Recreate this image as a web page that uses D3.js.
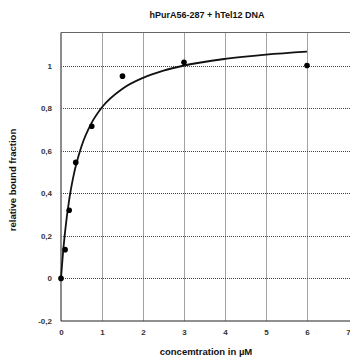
<!DOCTYPE html>
<html><head><meta charset="utf-8">
<script src="https://cdn.jsdelivr.net/npm/d3@7"></script>
<style>body{margin:0;background:#fff;}svg{display:block;font-family:"Liberation Sans",Arial,sans-serif;}</style>
</head><body><svg id="c" width="350" height="363"></svg>
<script>
const title = "hPurA56-287 + hTel12 DNA";
const xLabel = "concemtration in µM";
const yLabel = "relative bound fraction";
const pointX = [0, 0.1, 0.2, 0.36, 0.75, 1.5, 3, 6];
const pointY = [0, 0.135, 0.32, 0.545, 0.715, 0.95, 1.015, 1.0];
const fitX = [0, 0.02, 0.05, 0.1, 0.2, 0.3, 0.5, 0.75, 1, 1.5, 2, 2.5, 3, 4, 5, 6];
const fitY = [0, 0.05, 0.122, 0.22, 0.37, 0.477, 0.621, 0.732, 0.804, 0.891, 0.942, 0.976, 1.0, 1.031, 1.051, 1.065];
const xTicks = [0, 1, 2, 3, 4, 5, 6, 7];
const yTicks = [-0.2, 0, 0.2, 0.4, 0.6, 0.8, 1];

const svg = d3.select("#c");
const L = 61, R = 348, T = 32.5, B = 321;
const x = d3.scaleLinear().domain([0, 7]).range([L, R]);
const y = d3.scaleLinear().domain([-0.2, 1.155]).range([B, T]);
const fmt = v => (v === 0 ? "0" : String(+v.toFixed(1)).replace(".", ","));

// grid
const g = svg.append("g");
g.selectAll(".gx").data(xTicks.filter(d => d > 0 && d < 7)).join("line")
  .attr("x1", d => x(d) + 0.5).attr("x2", d => x(d) + 0.5).attr("y1", T).attr("y2", B)
  .attr("stroke", "#444").attr("stroke-width", 1).attr("stroke-dasharray", "1,1");
g.selectAll(".gy").data(yTicks.filter(d => d > -0.2)).join("line")
  .attr("x1", L).attr("x2", 350).attr("y1", d => Math.round(y(d)) + 0.5).attr("y2", d => Math.round(y(d)) + 0.5)
  .attr("stroke", "#444").attr("stroke-width", 1).attr("stroke-dasharray", "1,1");

// frame
svg.append("line").attr("x1", L).attr("x2", 350).attr("y1", T).attr("y2", T).attr("stroke", "#666").attr("stroke-width", 1);
svg.append("line").attr("x1", L).attr("x2", L).attr("y1", T).attr("y2", B).attr("stroke", "#666").attr("stroke-width", 1.5);
svg.append("line").attr("x1", L).attr("x2", 350).attr("y1", B).attr("y2", B).attr("stroke", "#222").attr("stroke-width", 1.2);

// axes labels
const xa = svg.append("g").attr("transform", `translate(0,${B})`)
  .call(d3.axisBottom(x).tickValues(xTicks).tickSize(0).tickPadding(8).tickFormat(fmt));
xa.select(".domain").remove();
xa.selectAll("text").attr("font-size", 8).attr("font-weight", "bold").attr("fill", "#333").attr("font-family", "Liberation Sans, Arial, sans-serif");
const ya = svg.append("g").attr("transform", `translate(${L},0)`)
  .call(d3.axisLeft(y).tickValues(yTicks).tickSize(0).tickPadding(9).tickFormat(fmt));
ya.select(".domain").remove();
ya.selectAll("text").attr("font-size", 8).attr("font-weight", "bold").attr("fill", "#333").attr("font-family", "Liberation Sans, Arial, sans-serif");

// fit curve
const fit = fitX.map((v, i) => [v, fitY[i]]);
svg.append("path").datum(fit)
  .attr("d", d3.line().x(d => x(d[0])).y(d => y(d[1])).curve(d3.curveMonotoneX))
  .attr("fill", "none").attr("stroke", "#111").attr("stroke-width", 1.8);

// points
svg.selectAll(".pt").data(pointX.map((v, i) => [v, pointY[i]])).join("circle")
  .attr("cx", d => x(d[0])).attr("cy", d => y(d[1])).attr("r", 2.8).attr("fill", "#000");

// title & labels
svg.append("text").attr("x", 207).attr("y", 18).attr("text-anchor", "middle")
  .attr("font-size", 9).attr("font-weight", "bold").attr("fill", "#111").text(title);
svg.append("text").attr("x", 206).attr("y", 355).attr("text-anchor", "middle")
  .attr("font-size", 9.5).attr("font-weight", "bold").attr("fill", "#111").text(xLabel);
svg.append("text").attr("transform", "translate(16,180) rotate(-90)").attr("text-anchor", "middle")
  .attr("font-size", 9.5).attr("font-weight", "bold").attr("fill", "#111").text(yLabel);
</script></body></html>
